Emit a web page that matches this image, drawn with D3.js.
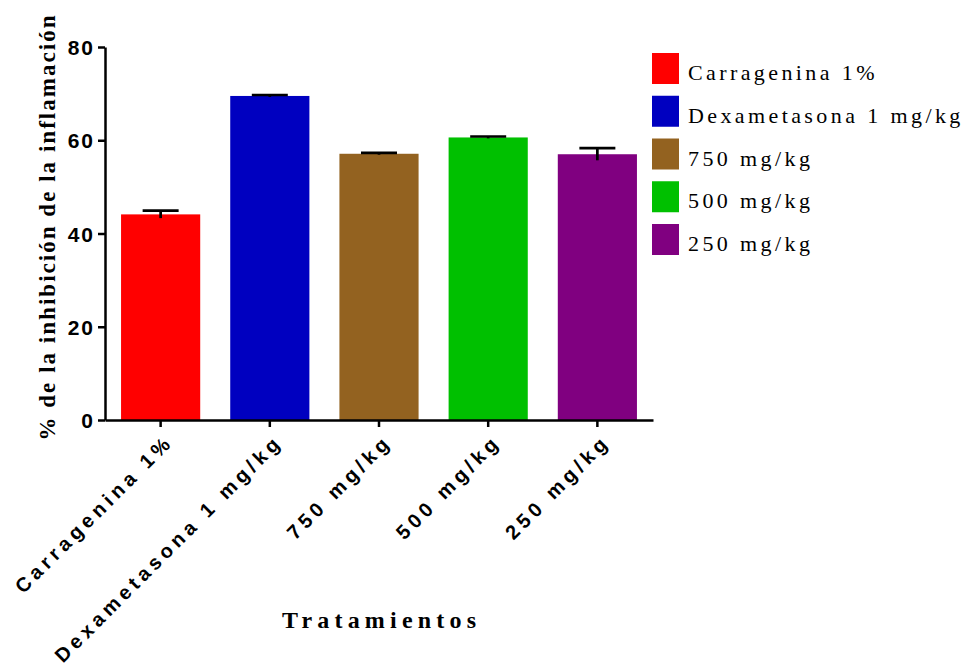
<!DOCTYPE html>
<html>
<head>
<meta charset="utf-8">
<script src="https://cdn.jsdelivr.net/npm/d3@7"></script>
<style>
	html, body { margin: 0; padding: 0; background: #ffffff; }
	svg { display: block; }
	.axis path, .axis line { stroke: #000000; stroke-width: 2.5px; }
	.y-ticks text { font-family: "Liberation Sans", Arial, sans-serif; font-weight: bold; font-size: 21px; letter-spacing: 2px; fill: #000000; }
	.x-ticks text { font-family: "Liberation Sans", Arial, sans-serif; font-weight: bold; font-size: 20px; letter-spacing: 4.5px; fill: #000000; }
	.axis-title { font-family: "Liberation Serif", "Times New Roman", serif; font-weight: bold; fill: #000000; }
	.legend text { font-family: "Liberation Serif", "Times New Roman", serif; font-size: 22px; letter-spacing: 3.4px; fill: #000000; }
</style>
</head>
<body>
<svg id="chart" width="968" height="666"></svg>
<script>
(function (d3) {

	// Tratamientos y % de inhibición (media y error estándar)
	var categories = ['Carragenina 1%', 'Dexametasona 1 mg/kg', '750 mg/kg', '500 mg/kg', '250 mg/kg'];
	var mean_values = [44.1, 69.5, 57.1, 60.6, 57.0];
	var sem_values = [0.8, 0.2, 0.2, 0.2, 1.3];
	var bar_colors = ['#ff0000', '#0000c0', '#936220', '#00c000', '#800080'];
	var y_ticks = [0, 20, 40, 60, 80];

	var svg = d3.select('#chart');

	var plot = { left: 105, right: 653, top: 47, bottom: 420 };

	var x = d3.scaleBand()
		.domain(categories)
		.range([plot.left, plot.right])
		.paddingInner(0.275)
		.paddingOuter(0.147);

	var y = d3.scaleLinear()
		.domain([0, 80])
		.range([plot.bottom, plot.top]);

	// bars
	svg.append('g')
		.selectAll('rect')
		.data(categories)
		.join('rect')
		.attr('x', function (d) { return x(d); })
		.attr('width', x.bandwidth())
		.attr('y', function (d, i) { return y(mean_values[i]); })
		.attr('height', function (d, i) { return y(0) - y(mean_values[i]); })
		.attr('fill', function (d, i) { return bar_colors[i]; });

	// error bars: vertical line plus a cap on the top only
	var cap_width = 36;
	var err = svg.append('g')
		.attr('stroke', '#000000')
		.attr('stroke-width', 2.7);

	err.selectAll('line.whisker')
		.data(categories)
		.join('line')
		.attr('class', 'whisker')
		.attr('x1', function (d) { return x(d) + x.bandwidth() / 2; })
		.attr('x2', function (d) { return x(d) + x.bandwidth() / 2; })
		.attr('y1', function (d, i) { return y(mean_values[i] - sem_values[i]); })
		.attr('y2', function (d, i) { return y(mean_values[i] + sem_values[i]); });

	err.selectAll('line.cap')
		.data(categories)
		.join('line')
		.attr('class', 'cap')
		.attr('x1', function (d) { return x(d) + x.bandwidth() / 2 - cap_width / 2; })
		.attr('x2', function (d) { return x(d) + x.bandwidth() / 2 + cap_width / 2; })
		.attr('y1', function (d, i) { return y(mean_values[i] + sem_values[i]); })
		.attr('y2', function (d, i) { return y(mean_values[i] + sem_values[i]); });

	// y axis
	svg.append('g')
		.attr('class', 'axis y-ticks')
		.attr('transform', 'translate(' + plot.left + ',0)')
		.call(d3.axisLeft(y).tickValues(y_ticks).tickSize(7).tickSizeOuter(0).tickPadding(3))
		.call(function (g) { g.selectAll('text').attr('dy', '0.36em'); });

	// x axis with rotated labels
	svg.append('g')
		.attr('class', 'axis x-ticks')
		.attr('transform', 'translate(0,' + plot.bottom + ')')
		.call(d3.axisBottom(x).tickSize(7).tickSizeOuter(0))
		.call(function (g) {
			g.selectAll('text')
				.attr('x', 0)
				.attr('y', 0)
				.attr('dy', 0)
				.attr('text-anchor', 'end')
				.attr('transform', 'translate(14,23) rotate(-45)');
		});

	// axis titles
	svg.append('text')
		.attr('class', 'axis-title')
		.attr('transform', 'translate(55,228) rotate(-90)')
		.attr('text-anchor', 'middle')
		.attr('font-size', 23)
		.attr('textLength', 425)
		.attr('lengthAdjust', 'spacing')
		.text('% de la inhibición de la inflamación');

	svg.append('text')
		.attr('class', 'axis-title')
		.attr('x', (plot.left + plot.right) / 2)
		.attr('y', 628)
		.attr('text-anchor', 'middle')
		.attr('font-size', 24)
		.attr('textLength', 194)
		.attr('lengthAdjust', 'spacing')
		.text('Tratamientos');

	// legend
	var legend = svg.append('g')
		.attr('class', 'legend')
		.attr('transform', 'translate(652,53)');

	var legend_item = legend.selectAll('g')
		.data(categories)
		.join('g')
		.attr('transform', function (d, i) { return 'translate(0,' + (i * 42.75) + ')'; });

	legend_item.append('rect')
		.attr('width', 27)
		.attr('height', 31)
		.attr('fill', function (d, i) { return bar_colors[i]; });

	legend_item.append('text')
		.attr('x', 36)
		.attr('y', 27)
		.text(function (d) { return d; });

}(d3));
</script>
</body>
</html>
